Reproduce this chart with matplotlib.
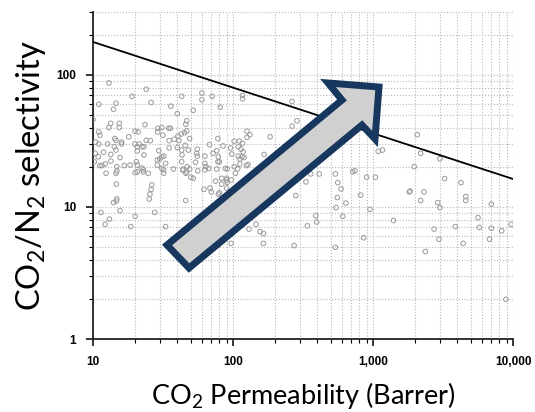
import matplotlib
matplotlib.use("Agg")
import matplotlib.pyplot as plt
from matplotlib.patches import Polygon
from matplotlib.ticker import LogLocator, FuncFormatter, NullFormatter

plt.rcParams['font.family'] = ['Lato', 'DejaVu Sans']
plt.rcParams['mathtext.fontset'] = 'custom'
plt.rcParams['mathtext.rm'] = 'Lato'
plt.rcParams['mathtext.it'] = 'Lato:italic'
plt.rcParams['mathtext.bf'] = 'Lato:bold'

# membrane data: CO2 permeability (Barrer), CO2/N2 selectivity
perm = [13, 24, 19, 26, 11, 14, 14.6, 36, 43, 60, 60, 71, 81, 117, 117, 52, 40, 264, 286, 264,
        10, 13.4, 15.4, 13, 15.4, 11, 11.2, 23.5, 20, 21, 18, 14.3, 14.6, 16, 16, 10.4, 11, 12.7, 14.2, 14.6,
        10.4, 10.9, 11.9, 13.4, 10.2, 11.2, 11.6, 12.2, 14.8, 16.7, 18.4, 20.4, 20.7, 22.4, 23.1, 20.7, 20.7, 22.4, 21.4, 24,
        25.7, 19.9, 23.1, 29, 31, 29, 31.5, 34.7, 35.7, 42.7, 45, 46.7, 46, 46.7, 40.5, 38, 41, 35, 49, 45.6,
        35, 40, 43, 48, 29.5, 31, 28.8, 32, 43.2, 43, 33, 28.8, 31, 32, 20, 20.7, 24.8, 14.8, 14.6, 12.4,
        43.7, 47, 46, 55, 55.6, 55.6, 63, 68, 78, 85, 72, 76.5, 78.5, 54, 63, 64, 67, 78, 80, 76.5,
        88, 96, 102, 111, 117, 109, 114, 118, 98, 116, 102, 112, 126, 132, 126, 184, 167, 125, 128, 104,
        90, 83, 50, 56, 63,
        26.3, 26, 25.5, 25.2, 27.6, 33, 46, 62, 68.5, 70, 75, 90, 91, 83, 78.5, 97, 130, 146, 156, 165,
        165, 273, 281, 332, 340, 390, 396, 359, 413, 538, 560, 591, 556, 544, 608, 641, 538, 716, 744, 900,
        1040, 817, 952, 858, 1400, 1090, 1170, 1815, 2070, 2190, 3010, 1970, 3250, 4250, 1840, 2310, 4600, 4600, 2190, 2900,
        3010, 7000, 2730, 2960, 2365, 3870, 4400, 5620, 5750, 7000, 6800, 8300, 9700, 8900,
        14.7, 14.8, 14.7, 14, 11.4, 15.6, 13.1, 12.2, 18.6, 20, 52,
        13.4, 15.6, 22.9, 22.9, 30, 32, 37.5, 44, 49, 46.7, 91, 97, 109, 112, 120, 108, 80, 90]
selectivity = [87, 78, 69, 62, 60, 55, 61, 58, 69, 73, 65, 69, 57, 70, 66, 54, 51, 63, 45, 41,
               46, 43, 43, 40, 40, 37, 35, 42, 37.5, 37, 34, 33, 32, 31, 30, 31, 30, 30, 28.6, 27,
               25.5, 24, 26, 25, 22, 20.6, 20.6, 21.2, 20.2, 20.6, 20.8, 22, 20.8, 19.7, 24.8, 26.6, 28.6, 28.6, 30, 32,
               31.8, 30, 28.6, 39.5, 40, 37, 35, 39.5, 39.5, 35.7, 36.6, 37.7, 42.3, 45, 34.5, 32.6, 31.8, 31.8, 33, 29.3,
               28, 28.2, 27, 27, 26.7, 24, 22.7, 24.3, 24.8, 22, 21.4, 20.8, 19.6, 18, 18.2, 18.5, 18, 18.7, 18, 18,
               19, 20.2, 18, 25.5, 27.4, 24.3, 24.3, 29.7, 33, 29, 25.5, 26.7, 24, 21.8, 21.4, 20.2, 19.6, 22, 22, 19.4,
               19.6, 28, 31.5, 31.6, 30.4, 28.6, 27.4, 26.2, 25.2, 24, 20.2, 21.2, 33.7, 35.3, 37.5, 34, 25, 20.6, 21, 18,
               16.5, 16.5, 16.8, 18.8, 19.1,
               14.7, 13.6, 12.5, 11.5, 9.1, 7.1, 11.2, 13.6, 13.9, 13, 15.7, 16, 15.4, 14.9, 12.5, 5.3, 6.8, 7.4, 6.5, 6.3,
               5.3, 5.1, 12.2, 15.5, 7.2, 8.6, 7.7, 17.8, 17.8, 17.8, 15.3, 13.7, 11.8, 9.9, 8.5, 10.7, 4.95, 18.5, 18.8, 16.8,
               16.8, 12.3, 9.6, 5.85, 7.9, 26.4, 27, 13, 35.3, 25.5, 23.2, 20.2, 16.4, 15.3, 13.2, 13, 12, 11.2, 11.2, 10.8,
               9.9, 10.5, 6.8, 5.7, 4.6, 7.1, 5.3, 8.3, 7.0, 6.9, 5.7, 6.6, 7.4, 2.0,
               14.9, 11.5, 11.1, 10.8, 9.1, 9.4, 8.1, 7.4, 7.1, 8.5, 16.5,
               22.3, 23.7, 19.1, 18.4, 23.1, 19.1, 19.4, 19.4, 19.4, 18.4, 19.4, 16, 24.3, 23.1, 23.7, 19.5, 12.8, 13.9]

# 2008 upper bound line end points
bound_perm = [10, 10000]
bound_sel = [178, 16.3]

xticks = [10, 100, 1000, 10000]
yticks = [1, 10, 100]

W, H = 535, 412
fig = plt.figure(figsize=(W / 100, H / 100), dpi=100)
ax = fig.add_axes([93 / W, 1 - 339 / H, 420 / W, 327 / H])
ax.set_xscale('log')
ax.set_yscale('log')
ax.set_xlim(10, 10000)
ax.set_ylim(1, 300)

ax.grid(True, which='both', color='#b8b8b8', linestyle=':', linewidth=0.8)
ax.set_axisbelow(True)
for s in ['top', 'right']:
    ax.spines[s].set_visible(False)
for s in ['left', 'bottom']:
    ax.spines[s].set_linewidth(1.3)
    ax.spines[s].set_color('#222222')

ax.set_xticks(xticks)
ax.set_yticks(yticks)
ax.xaxis.set_minor_locator(LogLocator(base=10, subs=range(2, 10)))
ax.yaxis.set_minor_locator(LogLocator(base=10, subs=range(2, 10)))
ax.xaxis.set_minor_formatter(NullFormatter())
ax.yaxis.set_minor_formatter(NullFormatter())
fmt = FuncFormatter(lambda v, p: f"{v:,.0f}")
ax.xaxis.set_major_formatter(fmt)
ax.yaxis.set_major_formatter(fmt)
ax.tick_params(which='major', length=5, width=1.1, labelsize=8.5, pad=7)
ax.tick_params(which='minor', length=3, width=0.8)
for lab in ax.get_xticklabels() + ax.get_yticklabels():
    lab.set_fontweight('bold')
    lab.set_family(['Liberation Sans', 'DejaVu Sans'])

ax.scatter(perm, selectivity, s=11, facecolors='none', edgecolors='#9a9a9a', linewidths=0.7, zorder=3)
ax.plot(bound_perm, bound_sel, color='black', linewidth=1.3, zorder=4)

ax.set_xlabel('CO$_2$ Permeability (Barrer)', fontsize=19.5, labelpad=9)
ax.set_ylabel('CO$_2$/N$_2$ selectivity', fontsize=23.5, labelpad=6)

# big block arrow (outline in figure pixels)
arrow_px = [(167, 245), (342, 100), (328, 83), (379, 87), (375, 139), (362, 125), (189, 268)]
arrow = Polygon([(x / W, 1 - y / H) for x, y in arrow_px], closed=True,
                transform=fig.transFigure, facecolor='#d0d0d0', edgecolor='#17375e',
                linewidth=5, joinstyle='miter', zorder=10)
fig.patches.append(arrow)

fig.savefig('out.png', dpi=100)
